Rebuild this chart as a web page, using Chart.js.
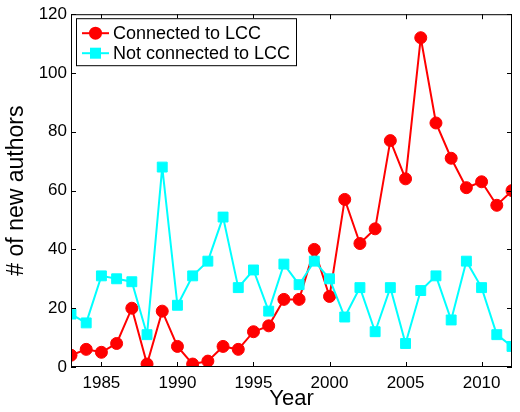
<!DOCTYPE html>
<html>
<head>
<meta charset="utf-8">
<script src="https://cdn.jsdelivr.net/npm/chart.js@4"></script>
<style>
  html, body { margin: 0; padding: 0; background: #fff; }
  #wrap { width: 520px; height: 412px; }
</style>
</head>
<body>
<div id="wrap"><canvas id="chart" width="520" height="412"></canvas></div>
<script>
// data
const years = [1983, 1984, 1985, 1986, 1987, 1988, 1989, 1990, 1991, 1992,
               1993, 1994, 1995, 1996, 1997, 1998, 1999, 2000, 2001, 2002,
               2003, 2004, 2005, 2006, 2007, 2008, 2009, 2010, 2011, 2012];
const connected = [4, 6, 5, 8, 20, 1, 19, 7, 1, 2,
                   7, 6, 12, 14, 23, 23, 40, 24, 57, 42,
                   47, 77, 64, 112, 83, 71, 61, 63, 55, 60];
const notConnected = [18, 15, 31, 30, 29, 11, 68, 21, 31, 36,
                      51, 27, 33, 19, 35, 28, 36, 30, 17, 27,
                      12, 27, 8, 26, 31, 16, 36, 27, 11, 7];
const xTicks = [1985, 1990, 1995, 2000, 2005, 2010];
const yTicks = [0, 20, 40, 60, 80, 100, 120];
const seriesNames = ['Connected to LCC', 'Not connected to LCC'];

const FONT = 'Liberation Sans, Arial, Helvetica, sans-serif';
const RED = '#ff0000';
const CYAN = '#00ffff';

// black box + inward tick marks, matlab style
const framePlugin = {
    id: 'frame',
    afterDatasetsDraw(chart) {
        const { ctx, chartArea: a, scales } = chart;
        ctx.save();
        ctx.strokeStyle = '#000';
        ctx.lineWidth = 1;
        ctx.strokeRect(a.left + 0.5, a.top + 0.5, a.right - a.left - 1, a.bottom - a.top - 1);
        const len = 5;
        ctx.beginPath();
        xTicks.forEach(v => {
            const x = Math.round(scales.x.getPixelForValue(v)) + 0.5;
            ctx.moveTo(x, a.bottom); ctx.lineTo(x, a.bottom - len);
            ctx.moveTo(x, a.top); ctx.lineTo(x, a.top + len);
        });
        yTicks.forEach(v => {
            const y = Math.round(scales.y.getPixelForValue(v)) + 0.5;
            ctx.moveTo(a.left, y); ctx.lineTo(a.left + len, y);
            ctx.moveTo(a.right, y); ctx.lineTo(a.right - len, y);
        });
        ctx.stroke();
        ctx.restore();
    },
    afterDraw(chart) {
        // legend box in the top-left corner of the plot
        const { ctx, chartArea: a } = chart;
        const bx = a.left + 5, by = a.top + 4, bw = 220, bh = 47;
        ctx.save();
        ctx.fillStyle = '#fff';
        ctx.fillRect(bx, by, bw, bh);
        ctx.strokeStyle = '#000';
        ctx.lineWidth = 1;
        ctx.strokeRect(bx + 0.5, by + 0.5, bw, bh);
        ctx.font = '18px ' + FONT;
        ctx.textBaseline = 'middle';
        const rows = [by + 15, by + 35];
        chart.data.datasets.forEach((ds, i) => {
            const y = rows[i];
            ctx.strokeStyle = ds.borderColor;
            ctx.lineWidth = 2;
            ctx.beginPath();
            ctx.moveTo(bx + 6, y);
            ctx.lineTo(bx + 33, y);
            ctx.stroke();
            ctx.fillStyle = ds.borderColor;
            if (ds.pointStyle === 'rect') {
                ctx.fillRect(bx + 19.5 - 5.5, y - 5.5, 11, 11);
            } else {
                ctx.beginPath();
                ctx.arc(bx + 19.5, y, 6.5, 0, Math.PI * 2);
                ctx.fill();
            }
            ctx.fillStyle = '#000';
            ctx.fillText(ds.label, bx + 37, y + 1);
        });
        ctx.restore();
    }
};

new Chart(document.getElementById('chart'), {
    type: 'line',
    data: {
        datasets: [
            {
                label: seriesNames[0],
                data: years.map((y, i) => ({ x: y, y: connected[i] })),
                borderColor: RED,
                backgroundColor: RED,
                borderWidth: 2,
                pointStyle: 'circle',
                pointRadius: 6,
                pointBorderWidth: 1,
                order: 1
            },
            {
                label: seriesNames[1],
                data: years.map((y, i) => ({ x: y, y: notConnected[i] })),
                borderColor: CYAN,
                backgroundColor: CYAN,
                borderWidth: 2,
                pointStyle: 'rect',
                pointRadius: 7,
                pointBorderWidth: 1,
                order: 0
            }
        ]
    },
    options: {
        responsive: false,
        animation: false,
        layout: { padding: { top: 13, right: 1, left: 0, bottom: 0 } },
        plugins: { legend: { display: false }, tooltip: { enabled: false } },
        scales: {
            x: {
                type: 'linear',
                min: 1983,
                max: 2012,
                afterBuildTicks: s => { s.ticks = xTicks.map(v => ({ value: v })); },
                afterFit: s => { s.height = 45; },
                grid: { display: false, drawTicks: false },
                border: { display: false },
                ticks: {
                    color: '#000',
                    font: { family: FONT, size: 17 },
                    padding: 6,
                    maxRotation: 0,
                    callback: v => String(v)
                },
                title: { display: true, text: 'Year', color: '#000', font: { family: FONT, size: 22 }, padding: 0 }
            },
            y: {
                min: 0,
                max: 120,
                afterBuildTicks: s => { s.ticks = yTicks.map(v => ({ value: v })); },
                afterFit: s => { s.width = 71; },
                grid: { display: false, drawTicks: false },
                border: { display: false },
                ticks: { color: '#000', font: { family: FONT, size: 17 }, padding: 4 },
                title: { display: true, text: '# of new authors', color: '#000', font: { family: FONT, size: 23 }, padding: { top: 3 } }
            }
        }
    },
    plugins: [framePlugin]
});
</script>
</body>
</html>
